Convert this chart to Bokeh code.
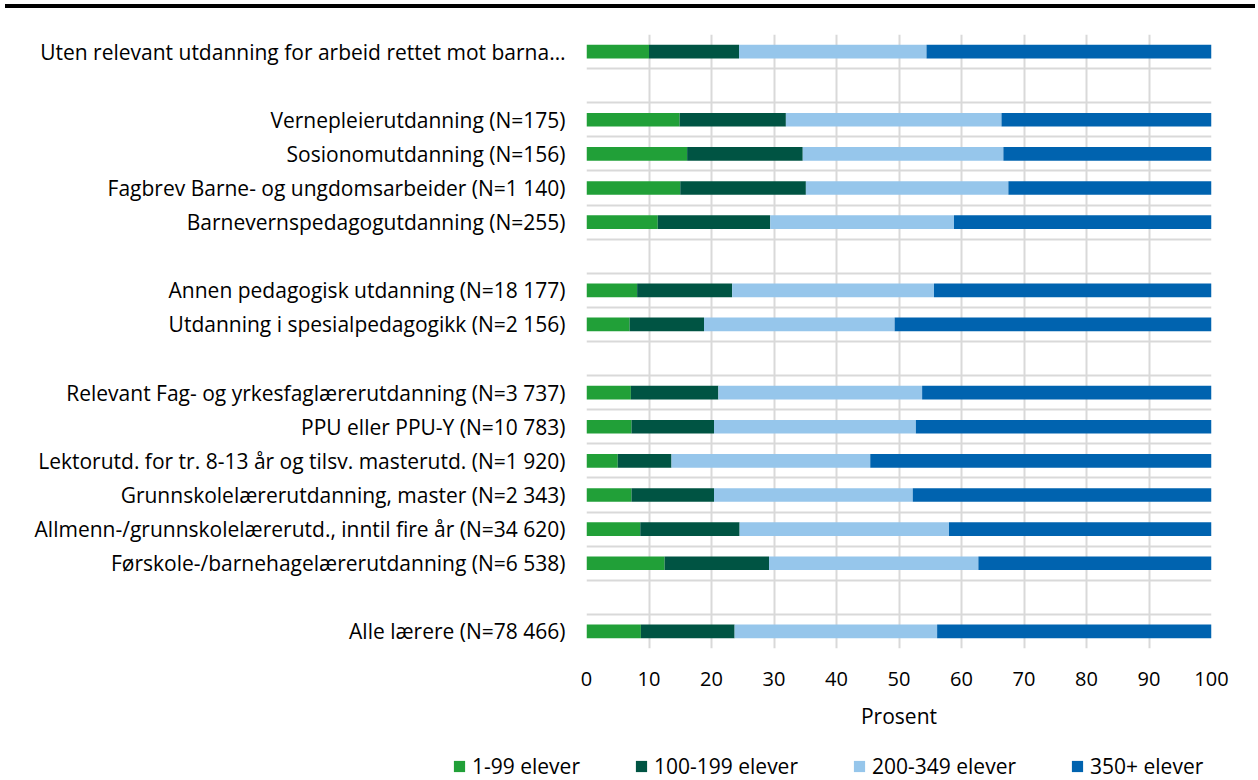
from bokeh.plotting import figure
from bokeh.models import ColumnDataSource, Range1d, FixedTicker, Legend, LegendItem, Div
from bokeh.layouts import column
from bokeh.embed import file_html
from bokeh.resources import INLINE

# Categories, top to bottom
categories = [
    "Uten relevant utdanning for arbeid rettet mot barna…",
    "Vernepleierutdanning (N=175)",
    "Sosionomutdanning (N=156)",
    "Fagbrev Barne- og ungdomsarbeider (N=1 140)",
    "Barnevernspedagogutdanning (N=255)",
    "Annen pedagogisk utdanning (N=18 177)",
    "Utdanning i spesialpedagogikk (N=2 156)",
    "Relevant Fag- og yrkesfaglærerutdanning (N=3 737)",
    "PPU eller PPU-Y (N=10 783)",
    "Lektorutd. for tr. 8-13 år og tilsv. masterutd. (N=1 920)",
    "Grunnskolelærerutdanning, master (N=2 343)",
    "Allmenn-/grunnskolelærerutd., inntil fire år (N=34 620)",
    "Førskole-/barnehagelærerutdanning (N=6 538)",
    "Alle lærere (N=78 466)",
]
# group of each category (a blank row separates groups)
groups = [0, 1, 1, 1, 1, 2, 2, 3, 3, 3, 3, 3, 3, 4]

series_names = ["1-99 elever", "100-199 elever", "200-349 elever", "350+ elever"]
v_1_99 = [10.0, 14.9, 16.1, 15.0, 11.4, 8.1, 6.9, 7.1, 7.2, 5.0, 7.2, 8.6, 12.5, 8.7]
v_100_199 = [14.4, 17.0, 18.5, 20.1, 18.0, 15.2, 11.9, 14.0, 13.2, 8.6, 13.2, 15.9, 16.7, 15.0]
v_200_349 = [30.0, 34.5, 32.1, 32.4, 29.4, 32.3, 30.5, 32.6, 32.3, 31.8, 31.8, 33.5, 33.5, 32.4]
v_350 = [45.6, 33.6, 33.3, 32.5, 41.2, 44.4, 50.7, 46.3, 47.3, 54.6, 47.8, 42.0, 37.3, 43.9]
x_ticks = [0, 10, 20, 30, 40, 50, 60, 70, 80, 90, 100]

colors = ["#21a038", "#005443", "#96c6eb", "#0063af"]
FONT = "Open Sans"
FS = "21px"

rows = [i + g for i, g in enumerate(groups)]
n_rows = rows[-1] + 1
ycent = [r + 0.5 for r in rows]

src = ColumnDataSource(dict(y=ycent, a=v_1_99, b=v_100_199, c=v_200_349, d=v_350))

p = figure(
    frame_width=625, frame_height=614,
    min_border_left=586, min_border_right=39, min_border_top=26, min_border_bottom=90,
    x_range=Range1d(0, 100), y_range=Range1d(n_rows, 0),
    output_backend="svg", toolbar_location=None,
)
p.outline_line_color = None
p.background_fill_color = "white"
p.border_fill_color = "white"

rs = p.hbar_stack(["a", "b", "c", "d"], y="y", height=0.4, color=colors,
                  line_color=None, source=src)

# grids
p.xgrid.ticker = FixedTicker(ticks=x_ticks)
p.ygrid.ticker = FixedTicker(ticks=list(range(n_rows + 1)))
for g in (p.xgrid, p.ygrid):
    g.grid_line_color = "#d9d9d9"
    g.grid_line_width = 2

# x axis
xa = p.xaxis[0]
xa.ticker = FixedTicker(ticks=x_ticks)
xa.axis_line_color = None
xa.major_tick_line_color = None
xa.minor_tick_line_color = None
xa.major_tick_out = 0
xa.major_tick_in = 0
xa.major_label_standoff = 23
xa.major_label_text_font = FONT
xa.major_label_text_font_size = "20px"
xa.major_label_text_color = "black"
xa.axis_label = "Prosent"
xa.axis_label_text_font = FONT
xa.axis_label_text_font_size = FS
xa.axis_label_text_font_style = "normal"
xa.axis_label_text_color = "black"
xa.axis_label_standoff = 13

# y axis
ya = p.yaxis[0]
ya.ticker = FixedTicker(ticks=ycent)
ya.major_label_overrides = {y: c for y, c in zip(ycent, categories)}
ya.axis_line_color = None
ya.major_tick_line_color = None
ya.minor_tick_line_color = None
ya.major_tick_out = 0
ya.major_label_standoff = 21
ya.major_label_text_font = FONT
ya.major_label_text_font_size = FS
ya.major_label_text_color = "black"

# legend strip below the chart (its bars lie outside its view; only the legend shows)
pl = figure(
    frame_width=1250, frame_height=42, min_border=0,
    x_range=Range1d(-300, -200), y_range=Range1d(-20, -19),
    x_axis_location=None, y_axis_location=None,
    output_backend="svg", toolbar_location=None,
)
pl.outline_line_color = None
pl.xgrid.visible = False
pl.ygrid.visible = False
pl.background_fill_color = "white"
pl.border_fill_color = "white"
swatches = pl.hbar_stack(["a", "b", "c", "d"], y="y", height=0.4, color=colors,
                         line_color=None, source=src)

legend = Legend(
    items=[LegendItem(label=n, renderers=[r]) for n, r in zip(series_names, swatches)],
    orientation="horizontal", location=(452, 0),
    border_line_color=None, background_fill_alpha=0,
    label_text_font=FONT, label_text_font_size=FS, label_text_color="black",
    glyph_width=14, glyph_height=14, label_standoff=6, spacing=54,
    padding=0, margin=0,
)
pl.add_layout(legend)

bar = Div(width=1250, height=4, margin=(4, 0, 0, 5), styles={"background-color": "black"})
layout = column(bar, p, pl, spacing=0)

open("out.html", "w").write(file_html(layout, INLINE))
